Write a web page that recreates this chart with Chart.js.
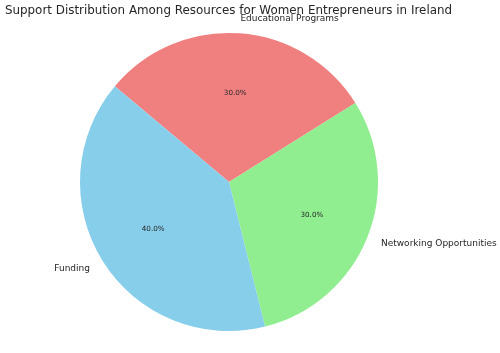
<!DOCTYPE html>
<html><head><meta charset="utf-8">
<script src="https://cdn.jsdelivr.net/npm/chart.js@4"></script>
<style>html,body{margin:0;padding:0;background:#fff}#c{display:block}</style>
</head><body>
<canvas id="c" width="500" height="353"></canvas>
<script>
// Data (drawn clockwise, matching matplotlib's counter-clockwise order from 140°)
const categories = ['Educational Programs', 'Networking Opportunities', 'Funding'];
const values = [30, 30, 40];
const colors = ['#F08080', '#90EE90', '#87CEEB'];
const titleText = 'Support Distribution Among Resources for Women Entrepreneurs in Ireland';

const labelPlugin = {
  id: 'labels',
  afterDraw(chart) {
    const ctx = chart.ctx;
    const meta = chart.getDatasetMeta(0);
    const total = values.reduce((a, b) => a + b, 0);
    ctx.save();
    ctx.fillStyle = '#262626';
    ctx.font = '11.9px "DejaVu Sans"';
    ctx.textAlign = 'center';
    ctx.textBaseline = 'middle';
    ctx.fillText(titleText, 228.5, 11);
    meta.data.forEach((arc, i) => {
      const {x, y, startAngle, endAngle, outerRadius} = arc.getProps(['x','y','startAngle','endAngle','outerRadius'], true);
      const mid = (startAngle + endAngle) / 2;
      const c = Math.cos(mid), s = Math.sin(mid);
      // outer label
      ctx.font = '9px "DejaVu Sans"';
      ctx.textAlign = c >= 0 ? 'left' : 'right';
      ctx.textBaseline = 'middle';
      ctx.fillText(categories[i], x + 1.1 * outerRadius * c, y + 1.1 * outerRadius * s);
      // percent
      ctx.font = '7.2px "DejaVu Sans"';
      ctx.textAlign = 'center';
      ctx.fillText((values[i] / total * 100).toFixed(1) + '%', x + 0.6 * outerRadius * c, y + 0.6 * outerRadius * s);
    });
    ctx.restore();
  }
};

new Chart(document.getElementById('c'), {
  type: 'pie',
  data: {
    labels: categories,
    datasets: [{ data: values, backgroundColor: colors, borderWidth: 0, hoverOffset: 0 }]
  },
  options: {
    responsive: false,
    animation: false,
    rotation: -50,
    layout: { padding: { left: 80, right: 122, top: 33, bottom: 22 } },
    plugins: { legend: { display: false }, title: { display: false }, tooltip: { enabled: false } }
  },
  plugins: [labelPlugin]
});
</script>
</body></html>
